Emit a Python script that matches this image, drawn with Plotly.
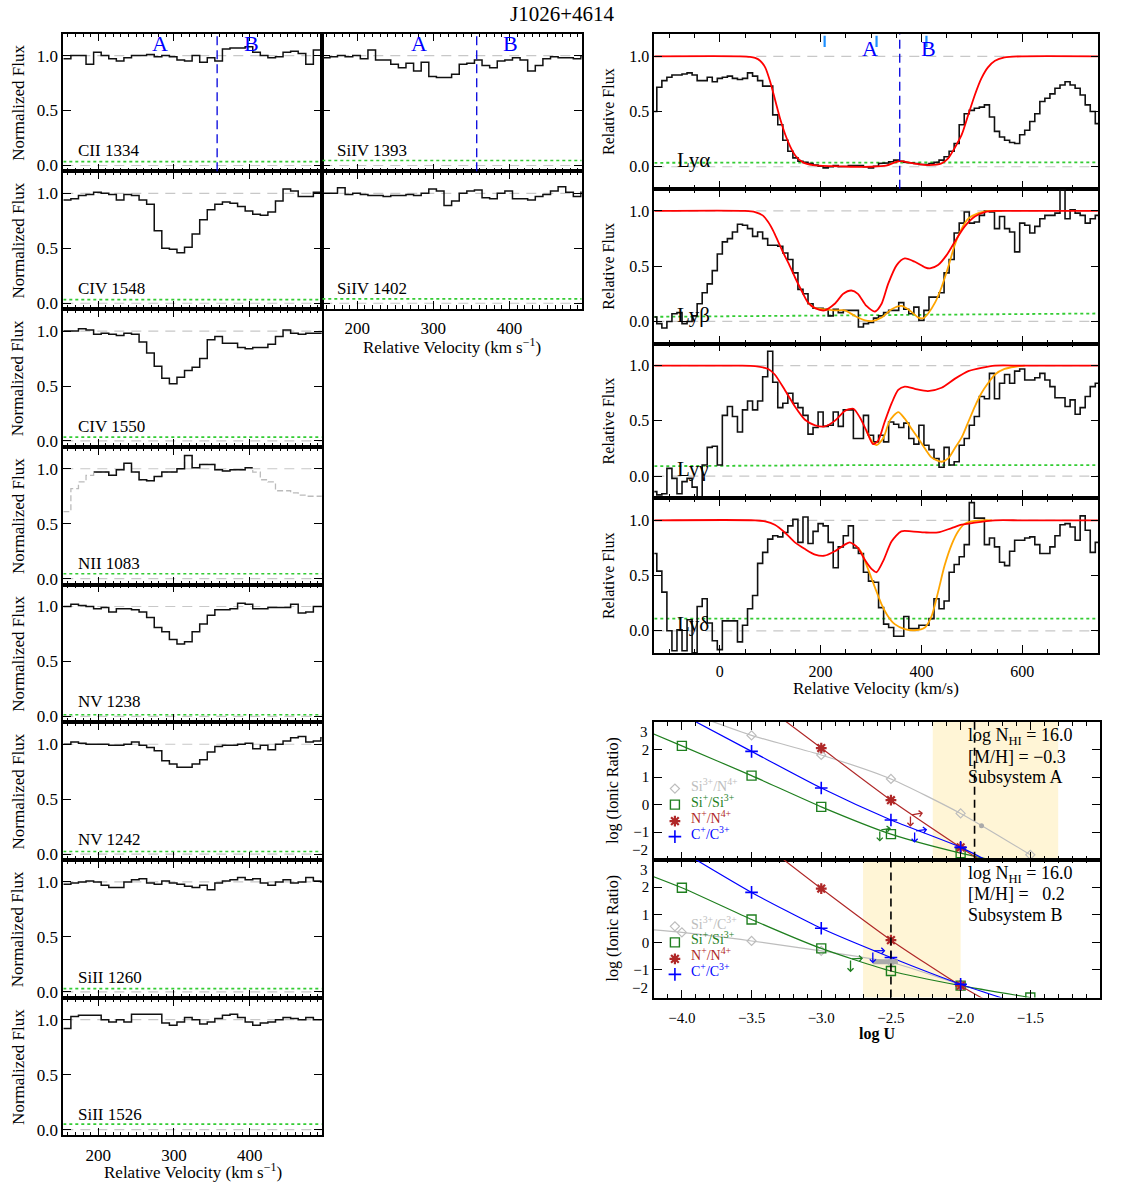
import numpy as np
import plotly.graph_objects as go

FONT = "Liberation Serif"
W, H = 1110, 1187   # effective drawing width seen by the renderer

# ======================= DATA =======================
# Metal-line panels: normalized flux, 10 km/s bins starting at 154 km/s
METAL_V0, METAL_DV = 154, 10

cii_1334 = [0.97, 1.00, 1.00, 0.92, 1.03, 1.00, 0.97, 0.95, 0.98, 1.00,
            1.00, 1.01, 0.99, 1.00, 0.99, 0.96, 0.95, 1.00, 0.94, 0.98,
            0.95, 1.06, 1.07, 1.07, 1.08, 1.03, 1.00, 0.98, 0.99, 1.03,
            1.04, 1.02, 0.92, 1.05, 0.97]
civ_1548 = [0.94, 0.95, 0.98, 0.99, 1.01, 1.00, 0.99, 0.94, 0.99, 0.98,
            0.94, 0.90, 0.66, 0.50, 0.49, 0.46, 0.51, 0.63, 0.76, 0.85,
            0.90, 0.92, 0.91, 0.88, 0.84, 0.81, 0.80, 0.83, 0.93, 1.04,
            1.02, 0.97, 0.97, 1.01, 1.00]
civ_1550 = [1.00, 1.00, 1.02, 1.01, 0.97, 0.98, 0.97, 0.96, 0.98, 0.97,
            0.90, 0.80, 0.68, 0.57, 0.52, 0.58, 0.64, 0.67, 0.75, 0.92,
            0.95, 0.89, 0.89, 0.85, 0.84, 0.85, 0.85, 0.88, 0.95, 1.01,
            0.98, 0.97, 0.98, 0.98, 0.98]
nii_core = [0.97, 0.97, 0.94, 0.99, 1.05, 0.97, 0.90, 0.89, 0.93, 0.97,
            0.97, 1.00, 1.12, 1.01, 1.04, 1.04, 0.99, 0.98, 0.99, 0.99, 1.01]
nii_1083 = [None] * 4 + nii_core + [None] * 10
nii_1083_blend = [0.61, 0.82, 0.88, 0.94] + nii_core + \
                 [0.97, 0.90, 0.88, 0.80, 0.80, 0.78, 0.76, 0.75, 0.75, 0.75]
nv_1238 = [1.00, 1.02, 1.01, 1.00, 0.98, 0.99, 0.95, 0.98, 0.98, 0.97,
           0.95, 0.90, 0.81, 0.77, 0.70, 0.66, 0.68, 0.77, 0.84, 0.92,
           0.97, 0.97, 0.98, 1.03, 1.02, 0.98, 0.98, 0.99, 0.99, 0.99,
           1.02, 0.94, 0.95, 1.00, 1.00]
nv_1242 = [1.00, 1.02, 1.01, 1.00, 1.00, 1.00, 0.99, 0.99, 1.00, 1.02,
           0.99, 0.97, 0.94, 0.85, 0.82, 0.79, 0.79, 0.82, 0.86, 0.93,
           0.98, 0.99, 0.99, 1.00, 1.01, 0.96, 0.99, 0.95, 1.00, 1.03,
           1.06, 1.07, 1.02, 1.03, 1.06]
sii_1260 = [0.98, 0.99, 1.00, 1.01, 1.00, 0.97, 0.95, 0.95, 1.00, 1.02,
            1.03, 0.99, 0.98, 1.01, 0.99, 0.98, 0.96, 0.95, 0.97, 0.93,
            0.99, 1.01, 1.02, 1.04, 1.02, 1.03, 0.99, 0.97, 1.00, 1.02,
            0.99, 1.00, 1.04, 1.01, 1.00]
sii_1526 = [0.92, 1.03, 1.04, 1.04, 1.04, 1.00, 0.98, 1.00, 0.98, 1.05,
            1.05, 1.05, 1.05, 0.97, 0.95, 0.98, 1.02, 1.00, 0.96, 0.98,
            1.01, 1.04, 1.05, 1.02, 0.98, 0.95, 0.97, 0.98, 1.00, 1.02,
            1.01, 1.00, 1.02, 1.00, 1.00]
siiv_1393 = [0.98, 0.99, 1.00, 0.99, 1.00, 0.97, 1.05, 0.96, 0.96, 0.92,
             0.89, 0.93, 0.86, 0.94, 0.81, 0.80, 0.80, 0.83, 0.92, 0.93,
             0.96, 0.91, 0.89, 0.95, 0.96, 0.98, 0.96, 0.86, 0.91, 0.97,
             0.99, 0.98, 0.98, 0.97, 0.99]
siiv_1402 = [1.00, 1.00, 1.05, 0.99, 1.00, 0.99, 0.98, 0.98, 0.97, 0.98,
             0.98, 0.99, 0.98, 1.00, 1.04, 1.02, 0.89, 0.93, 1.00, 1.02,
             1.03, 0.96, 0.95, 1.00, 1.02, 0.95, 0.95, 0.94, 0.97, 0.99,
             1.02, 1.06, 1.01, 0.97, 1.01]

metal_labels = ["CII 1334", "CIV 1548", "CIV 1550", "NII 1083", "NV 1238",
                "NV 1242", "SiII 1260", "SiII 1526", "SiIV 1393", "SiIV 1402"]
metal_flux = [cii_1334, civ_1548, civ_1550, nii_1083, nv_1238,
              nv_1242, sii_1260, sii_1526, siiv_1393, siiv_1402]
metal_err = [0.035, 0.033, 0.035, 0.045, 0.015, 0.024, 0.03, 0.05, 0.045, 0.04]

SUBSYS_SPLIT_V = 357          # dashed separator between subsystems A and B
subsys_label_v = [281, 402]   # positions of "A" and "B" in metal panels
subsys_names = ["A", "B"]

# Lyman series: relative flux, 10 km/s bins starting at -135 km/s
LY_V0, LY_DV = -135, 10
lya_flux = [0.50, 0.72, 0.78, 0.81, 0.83, 0.83, 0.84, 0.85, 0.83, 0.78,
            0.78, 0.81, 0.77, 0.80, 0.81, 0.82, 0.80, 0.79, 0.80, 0.85,
            0.82, 0.78, 0.73, 0.73, 0.47, 0.38, 0.24, 0.14, 0.08, 0.05,
            0.04, 0.03, 0.015, 0.005, -0.01, 0.0, 0.01, 0.0, 0.005, 0.01,
            0.005, 0.01, 0.0, -0.01, 0.005, 0.03, 0.035, 0.045, 0.06, 0.05,
            0.04, 0.035, 0.03, 0.02, 0.02, 0.03, 0.04, 0.06, 0.09, 0.14,
            0.21, 0.38, 0.48, 0.51, 0.53, 0.54, 0.56, 0.45, 0.32, 0.27,
            0.24, 0.22, 0.21, 0.29, 0.33, 0.41, 0.48, 0.59, 0.62, 0.66,
            0.71, 0.74, 0.77, 0.74, 0.71, 0.65, 0.56, 0.50, 0.39]
lyb_flux = [0.04, -0.02, -0.06, 0.0, 0.07, 0.08, -0.02, 0.0, 0.05, 0.16,
            0.26, 0.34, 0.46, 0.61, 0.72, 0.75, 0.81, 0.88, 0.87, 0.84,
            0.77, 0.81, 0.75, 0.69, 0.69, 0.68, 0.62, 0.56, 0.44, 0.29,
            0.25, 0.16, 0.12, 0.12, 0.11, 0.05, 0.11, 0.08, 0.10, 0.10,
            0.10, -0.05, -0.02, -0.01, 0.03, 0.05, 0.08, 0.10, 0.10, 0.17,
            0.11, 0.07, 0.13, 0.01, 0.10, 0.22, 0.22, 0.26, 0.44, 0.56,
            0.80, 0.89, 0.99, 0.89, 0.90, 0.96, 1.00, 0.99, 0.84, 0.95,
            0.84, 0.81, 0.63, 0.89, 0.87, 0.80, 0.86, 0.93, 0.96, 0.96,
            0.98, 1.19, 0.93, 1.01, 0.98, 0.96, 0.89, 0.93, 0.96]
lyg_flux = [-0.14, -0.17, -0.16, 0.07, -0.02, -0.16, -0.05, -0.02, -0.10, -0.22,
            0.10, 0.26, 0.27, 0.10, 0.55, 0.63, 0.54, 0.40, 0.60, 0.68,
            0.60, 0.68, 0.90, 1.13, 0.85, 0.62, 0.66, 0.75, 0.66, 0.62,
            0.55, 0.38, 0.44, 0.58, 0.45, 0.46, 0.58, 0.45, 0.60, 0.60,
            0.34, 0.34, 0.55, 0.37, 0.31, 0.37, 0.31, 0.49, 0.47, 0.44,
            0.48, 0.34, 0.29, 0.46, 0.28, 0.24, 0.16, 0.08, 0.26, 0.10,
            0.13, 0.28, 0.34, 0.46, 0.54, 0.72, 0.70, 0.93, 0.70, 0.84,
            0.92, 0.84, 0.95, 0.97, 0.87, 0.87, 0.89, 0.93, 0.87, 0.81,
            0.71, 0.71, 0.63, 0.69, 0.56, 0.62, 0.72, 0.81, 0.84]
lyd_flux = [0.70, 0.54, 0.35, 0.0, -0.18, 0.01, -0.18, 0.10, -0.20, 0.22,
            0.29, 0.07, -0.09, -0.17, 0.09, 0.09, 0.09, -0.10, 0.05, 0.20,
            0.32, 0.61, 0.71, 0.83, 0.86, 0.85, 0.89, 0.95, 1.01, 0.80,
            1.03, 0.79, 0.90, 0.97, 0.95, 0.80, 0.57, 0.76, 0.86, 0.95,
            0.75, 0.70, 0.53, 0.45, 0.44, 0.21, 0.06, 0.03, -0.05, -0.05,
            0.13, 0.02, 0.02, 0.05, 0.05, 0.11, 0.29, 0.20, 0.27, 0.53,
            0.60, 0.67, 0.78, 1.16, 1.02, 1.02, 0.78, 0.84, 0.76, 0.62,
            0.59, 0.72, 0.82, 0.82, 0.84, 0.85, 0.78, 0.70, 0.70, 0.76,
            0.86, 0.96, 0.97, 0.94, 0.82, 1.04, 0.91, 0.71, 0.80]

ly_err_v = [-130, 300, 750]
lya_err = [0.036, 0.036, 0.04]
lyb_err = [0.042, 0.057, 0.072]
lyg_err = [0.09, 0.10, 0.10]
lyd_err = [0.11, 0.11, 0.11]

# Voigt-profile models (red: total, orange: extra component)
lya_mod_v = [-130, 40, 60, 70, 80, 90, 100, 110, 120, 130, 140, 150, 165, 185, 220,
             260, 300, 330, 355, 385, 415, 440, 453, 466, 480, 493, 506, 519,
             532, 546, 565, 600, 750]
lya_mod_f = [1.0, 1.0, 0.995, 0.985, 0.96, 0.9, 0.77, 0.6, 0.43, 0.29, 0.18, 0.10,
             0.04, 0.015, 0.005, 0.0, 0.0, 0.01, 0.05, 0.03, 0.015, 0.03, 0.075,
             0.17, 0.29, 0.47, 0.65, 0.8, 0.9, 0.96, 0.99, 1.0, 1.0]
lyb_mod_v = [-130, 50, 70, 85, 96, 106, 116, 126, 136, 149, 162, 175, 189, 208, 228,
             245, 261, 274, 291, 308, 321, 334, 351, 367, 387, 407, 417, 433, 450,
             466, 486, 506, 526, 546, 600, 750]
lyb_mod_f = [1.0, 1.0, 0.99, 0.96, 0.90, 0.82, 0.72, 0.62, 0.53, 0.40, 0.28, 0.17,
             0.12, 0.10, 0.16, 0.25, 0.28, 0.25, 0.14, 0.09, 0.16, 0.34, 0.51, 0.57,
             0.54, 0.49, 0.48, 0.51, 0.60, 0.72, 0.86, 0.95, 0.99, 1.0, 1.0, 1.0]
lyb_alt_v = [175, 189, 208, 228, 248, 268, 288, 304, 321, 341, 360, 377, 394, 404,
             413, 427, 440, 453, 466, 480, 493, 513, 532, 560]
lyb_alt_f = [0.17, 0.12, 0.11, 0.10, 0.10, 0.05, 0.01, 0.005, 0.035, 0.11, 0.14,
             0.10, 0.035, 0.03, 0.07, 0.17, 0.31, 0.49, 0.69, 0.84, 0.93, 0.98,
             1.0, 1.0]
lyg_mod_v = [-130, 40, 70, 96, 109, 129, 149, 169, 189, 208, 228, 248, 265, 278, 291,
             304, 314, 327, 341, 354, 367, 387, 413, 440, 466, 493, 519, 546, 600, 750]
lyg_mod_f = [1.0, 1.0, 0.995, 0.97, 0.92, 0.78, 0.63, 0.51, 0.46, 0.45, 0.50, 0.59,
             0.61, 0.53, 0.41, 0.29, 0.32, 0.49, 0.66, 0.78, 0.81, 0.79, 0.77, 0.80,
             0.88, 0.95, 0.98, 1.0, 1.0, 1.0]
lyg_alt_v = [291, 304, 311, 324, 337, 354, 367, 380, 394, 407, 420, 440, 453, 466,
             480, 493, 506, 519, 532, 546, 565, 585, 605]
lyg_alt_f = [0.41, 0.30, 0.28, 0.34, 0.50, 0.58, 0.52, 0.43, 0.34, 0.25, 0.17, 0.13,
             0.16, 0.25, 0.35, 0.49, 0.63, 0.75, 0.84, 0.92, 0.97, 0.99, 1.0]
lyd_mod_v = [-130, 70, 90, 109, 129, 149, 169, 189, 208, 228, 248, 258, 274, 288,
             301, 311, 324, 341, 360, 380, 407, 433, 460, 480, 506, 546, 600, 750]
lyd_mod_f = [1.0, 1.0, 0.99, 0.96, 0.89, 0.80, 0.74, 0.69, 0.68, 0.72, 0.78, 0.80,
             0.75, 0.64, 0.56, 0.53, 0.63, 0.81, 0.90, 0.90, 0.89, 0.89, 0.93, 0.96,
             0.98, 1.0, 1.0, 1.0]
lyd_alt_v = [274, 281, 294, 308, 321, 334, 347, 367, 387, 407, 420, 433, 446, 460,
             473, 486, 499, 519, 540]
lyd_alt_f = [0.75, 0.71, 0.56, 0.39, 0.24, 0.13, 0.06, 0.015, 0.005, 0.03, 0.13,
             0.35, 0.59, 0.78, 0.90, 0.97, 0.99, 1.0, 1.0]

ly_labels = ["Ly\u03b1", "Ly\u03b2", "Ly\u03b3", "Ly\u03b4"]
comp_v = [208, 311, 410]            # component markers in Ly-alpha
ly_subsys_v = [298, 415]

# Photoionization models: log(ionic ratio) vs log U
# Subsystem A
A_sin_u = [-4.0, -3.5, -3.0, -2.5, -2.0, -1.5]
A_sin = [3.42, 2.51, 1.80, 0.93, -0.32, -1.82]
A_sisi_u = [-4.5, -4.0, -3.5, -3.0, -2.5, -2.0, -1.5]
A_sisi = [3.2, 2.13, 1.05, -0.08, -1.07, -1.76, -2.3]
A_nn_u = [-3.5, -3.0, -2.5, -2.0, -1.5]
A_nn = [3.95, 2.05, 0.16, -1.55, -3.2]
A_cc_u = [-4.0, -3.5, -3.0, -2.5, -2.0, -1.5]
A_cc = [3.27, 1.93, 0.60, -0.56, -1.55, -2.85]
A_obs_u, A_obs = [-1.85], [-0.77]
A_band = [-2.2, -1.3]
A_best = -1.9
# Subsystem B
B_sic_u = [-4.5, -4.0, -3.5, -3.0, -2.5, -2.0]
B_sic = [0.58, 0.36, 0.05, -0.31, -0.72, -1.54]
B_sisi_u = [-4.5, -4.0, -3.5, -3.0, -2.5, -2.0, -1.5]
B_sisi = [2.95, 1.98, 0.83, -0.22, -1.04, -1.57, -2.0]
B_nn_u = [-3.5, -3.0, -2.5, -2.0, -1.5]
B_nn = [3.9, 1.95, 0.08, -1.57, -3.0]
B_cc_u = [-4.0, -3.5, -3.0, -2.5, -2.0, -1.5]
B_cc = [3.3, 1.81, 0.51, -0.55, -1.52, -2.35]
B_obs_u, B_obs = [-2.63, -2.45], [-0.70, -0.70]
B_band = [-2.7, -2.0]
B_best = -2.5

# limits: (ion key, corner logU, corner ratio, down-arrow ratio, right-arrow logU, right-arrow ratio)
A_limits = [("N", -2.36, -0.38, -0.80, -2.27, -0.30),
            ("Si", -2.58, -0.92, -1.34, -2.50, -0.86),
            ("C", -2.33, -0.96, -1.38, -2.24, -0.90)]
B_limits = [("Si", -2.79, -0.60, -1.08, -2.70, -0.58),
            ("C", -2.63, -0.31, -0.76, -2.54, -0.30)]

A_text = ["log N<sub>HI</sub> = 16.0", "[M/H] = \u22120.3", "Subsystem A"]
B_text = ["log N<sub>HI</sub> = 16.0", "[M/H] = \u00a0\u00a00.2", "Subsystem B"]
A_leg = ["Si<sup>3+</sup>/N<sup>4+</sup>", "Si<sup>+</sup>/Si<sup>3+</sup>",
         "N<sup>+</sup>/N<sup>4+</sup>", "C<sup>+</sup>/C<sup>3+</sup>"]
B_leg = ["Si<sup>3+</sup>/C<sup>3+</sup>", "Si<sup>+</sup>/Si<sup>3+</sup>",
         "N<sup>+</sup>/N<sup>4+</sup>", "C<sup>+</sup>/C<sup>3+</sup>"]

# ======================= STYLE =======================
C_GRAY = "#BDBDBD"
C_GREEN = "#1F7F1F"
C_RED = "#B02828"
C_BLUE = "#0000FF"
C_STEP = "#111111"
C_ERR = "#33CC33"
C_SHADE = "#FFF5D6"
ion_color = {"Si3": C_GRAY, "Si": C_GREEN, "N": C_RED, "C": C_BLUE}

fig = go.Figure()
layout = {}
annotations = []
shapes = []


def sfx(i):
    return "" if i == 1 else str(i)


def steps(v0, dv, vals):
    xs, ys = [], []
    prev = None
    for k, val in enumerate(vals):
        l, r = v0 + k * dv, v0 + (k + 1) * dv
        if val is None:
            if prev is not None:
                xs.append(None)
                ys.append(None)
            prev = None
            continue
        xs += [l, r]
        ys += [val, val]
        prev = val
    return xs, ys


def base_axis(size):
    return dict(showline=True, linecolor="black", linewidth=1.6, mirror="ticks",
                ticks="inside", tickcolor="black", tickwidth=1.2, ticklen=8,
                showgrid=False, zeroline=False,
                tickfont=dict(family=FONT, size=size, color="black"))


def add_axes(i, x0, x1, top, bot, xr, yr, xtick0, xdtick, xminor, xfmt,
             showx, showy, size, ytick=None, standoff=3):
    xa = base_axis(size)
    xa.update(domain=[x0 / W, x1 / W], anchor="y" + sfx(i), range=xr,
              tickmode="linear", tick0=xtick0, dtick=xdtick, tickformat=xfmt,
              showticklabels=showx, ticklabelstandoff=standoff,
              minor=dict(ticks="inside", ticklen=4, tickcolor="black", tickwidth=1,
                         tickmode="linear", tick0=xtick0, dtick=xminor))
    ya = base_axis(size)
    ya.update(domain=[1 - bot / H, 1 - top / H], anchor="x" + sfx(i), range=yr,
              showticklabels=showy)
    if ytick is None:
        ya.update(tickmode="linear", tick0=0, dtick=0.5, tickformat=".1f")
    else:
        ya.update(tickmode="array", tickvals=ytick[0], ticktext=ytick[1])
    layout["xaxis" + sfx(i)] = xa
    layout["yaxis" + sfx(i)] = ya


def hline(i, y, color, dash, width=1.2):
    shapes.append(dict(type="line", xref="x" + sfx(i) + " domain", yref="y" + sfx(i),
                       x0=0, x1=1, y0=y, y1=y, layer="below",
                       line=dict(color=color, dash=dash, width=width)))


def vline(i, x, color, dash, width=1.3, layer="above"):
    shapes.append(dict(type="line", xref="x" + sfx(i), yref="y" + sfx(i) + " domain",
                       x0=x, x1=x, y0=0, y1=1, layer=layer,
                       line=dict(color=color, dash=dash, width=width)))


def ann(text, x, y, xref="paper", yref="paper", size=17, color="black", **kw):
    d = dict(text=text, x=x, y=y, xref=xref, yref=yref, showarrow=False,
             xanchor="center", yanchor="middle",
             font=dict(family=FONT, size=size, color=color))
    d.update(kw)
    annotations.append(d)


def tr(i, **kw):
    kw.setdefault("showlegend", False)
    kw.setdefault("hoverinfo", "skip")
    fig.add_trace(go.Scatter(xaxis="x" + sfx(i), yaxis="y" + sfx(i), **kw))


DASH_REF = "10px,7px"

# ---------------- metal panels ----------------
LEFT_X = (63.3, 321.7)
MID_X = (322.3, 581.7)
TOP0, PH = 33.7, 138.2
METAL_XR = [154, 495]
METAL_YR = [-0.053, 1.2]

for idx in range(10):
    i = idx + 1
    if idx < 8:
        x0, x1 = LEFT_X
        row = idx
        bottom = (idx == 7)
        showy = True
    else:
        x0, x1 = MID_X
        row = idx - 8
        bottom = (idx == 9)
        showy = False
    top = TOP0 + PH * row
    bot = top + PH
    add_axes(i, x0, x1, top, bot, METAL_XR, METAL_YR, 0, 100, 10, "d",
             bottom, showy, 17)
    hline(i, 0, "#C8C8C8", DASH_REF)
    hline(i, 1, "#C8C8C8", DASH_REF)
    e = metal_err[idx]
    tr(i, x=[METAL_XR[0], METAL_XR[1]], y=[e, e], mode="lines",
       line=dict(color=C_ERR, dash="dot", width=1.6))
    if idx == 3:
        bx, by = steps(METAL_V0, METAL_DV, nii_1083_blend)
        tr(i, x=bx, y=by, mode="lines", line=dict(color="#BBBBBB", dash="6px,3px", width=1.3))
    sx, sy = steps(METAL_V0, METAL_DV, metal_flux[idx])
    tr(i, x=sx, y=sy, mode="lines", line=dict(color=C_STEP, width=1.5))
    ann(metal_labels[idx], 171, 0.03, xref="x" + sfx(i), yref="y" + sfx(i),
        xanchor="left", yanchor="bottom", size=17)
    if showy:
        ann("Normalized Flux", 18.3 / W, 1 - (top + bot) / 2 / H, textangle=-90, size=17)
    if idx in (0, 8):
        vline(i, SUBSYS_SPLIT_V, "#0000DD", "9px,5px")
        for v, name in zip(subsys_label_v, subsys_names):
            ann(name, v, 1.11, xref="x" + sfx(i), yref="y" + sfx(i), size=22, color="#0000FF")

ann("Relative Velocity (km s<sup>\u22121</sup>)", (LEFT_X[0] + LEFT_X[1]) / 2 / W, 1 - 1175 / H, size=17)
ann("Relative Velocity (km s<sup>\u22121</sup>)", (MID_X[0] + MID_X[1]) / 2 / W, 1 - 347 / H, size=17)

# ---------------- Lyman series panels ----------------
LY_X = (654.3, 1098.3)
LY_TOP0, LY_PH = 34.3, 155.2
LY_XR = [-130, 751]
LY_YR = [-0.2, 1.2]
ly_flux = [lya_flux, lyb_flux, lyg_flux, lyd_flux]
ly_err = [lya_err, lyb_err, lyg_err, lyd_err]
ly_mod = [(lya_mod_v, lya_mod_f), (lyb_mod_v, lyb_mod_f), (lyg_mod_v, lyg_mod_f), (lyd_mod_v, lyd_mod_f)]
ly_alt = [None, (lyb_alt_v, lyb_alt_f), (lyg_alt_v, lyg_alt_f), (lyd_alt_v, lyd_alt_f)]

for k in range(4):
    i = 11 + k
    top = LY_TOP0 + LY_PH * k
    bot = top + LY_PH
    add_axes(i, LY_X[0], LY_X[1], top, bot, LY_XR, LY_YR, 0, 200, 50, "d",
             k == 3, True, 16)
    hline(i, 0, "#C8C8C8", DASH_REF)
    hline(i, 1, "#C8C8C8", DASH_REF)
    tr(i, x=ly_err_v, y=ly_err[k], mode="lines", line=dict(color=C_ERR, dash="dot", width=1.8))
    sx, sy = steps(LY_V0, LY_DV, ly_flux[k])
    tr(i, x=sx, y=sy, mode="lines", line=dict(color=C_STEP, width=1.6))
    if ly_alt[k] is not None:
        tr(i, x=ly_alt[k][0], y=ly_alt[k][1], mode="lines",
           line=dict(color="#FFA500", width=1.8, shape="spline", smoothing=0.7))
    tr(i, x=ly_mod[k][0], y=ly_mod[k][1], mode="lines",
       line=dict(color="#FF0000", width=1.8, shape="spline", smoothing=0.7))
    ann(ly_labels[k], -88, 0.06, xref="x" + sfx(i), yref="y" + sfx(i),
        xanchor="left", yanchor="middle", size=21)
    ann("Relative Flux", 608.5 / W, 1 - (top + bot) / 2 / H, textangle=-90, size=16)

vline(11, SUBSYS_SPLIT_V, "#0000DD", "9px,5px")
tr(11, x=comp_v, y=[1.135] * len(comp_v), mode="markers",
   marker=dict(symbol="line-ns-open", size=8, color="#1E90FF",
               line=dict(color="#1E90FF", width=2.2)))
for v, name in zip(ly_subsys_v, subsys_names):
    ann(name, v, 1.07, xref="x11", yref="y11", size=22, color="#0000FF")
ann("Relative Velocity (km/s)", (LY_X[0] + LY_X[1]) / 2 / W, 1 - 691 / H, size=17)

# ---------------- photoionization panels ----------------
ION_X = (654.0, 1100.0)
ION_TOPS = [724.3, 862.5]
ION_PH = 138.4
ION_XR = [-4.2, -1.0]
ION_YR = [-2.0, 3.0]
yv = [-2, -1, 0, 1, 2, 3]
yt = ["", "\u22121", "0", "1", "2", ""]

panels = [
    dict(curves=[("Si3", A_sin_u, A_sin), ("Si", A_sisi_u, A_sisi),
                 ("N", A_nn_u, A_nn), ("C", A_cc_u, A_cc)],
         band=A_band, best=A_best, limits=A_limits, text=A_text, leg=A_leg),
    dict(curves=[("Si3", B_sic_u, B_sic), ("Si", B_sisi_u, B_sisi),
                 ("N", B_nn_u, B_nn), ("C", B_cc_u, B_cc)],
         band=B_band, best=B_best, limits=B_limits, text=B_text, leg=B_leg),
]
marker_style = {
    "Si3": dict(symbol="diamond-open", size=7, line=dict(width=1.2, color=C_GRAY), color=C_GRAY),
    "Si": dict(symbol="square-open", size=9, line=dict(width=1.4, color=C_GREEN), color=C_GREEN),
    "N": dict(symbol="asterisk-open", size=9, line=dict(width=2.2, color=C_RED), color=C_RED),
    "C": dict(symbol="cross-thin-open", size=9, line=dict(width=1.6, color=C_BLUE), color=C_BLUE),
}
leg_order = ["Si3", "Si", "N", "C"]
leg_text_y = [0.70, 0.14, -0.44, -1.02]
leg_mark_y = [0.58, 0.0, -0.60, -1.16]
ion_text_y = [2.47, 1.74, 1.0]

for p, P in enumerate(panels):
    i = 15 + p
    top = ION_TOPS[p]
    bot = top + ION_PH
    add_axes(i, ION_X[0], ION_X[1], top, bot, ION_XR, ION_YR, -4.0, 0.5, 0.1, ".1f",
             p == 1, True, 15, ytick=(yv, yt), standoff=6)
    xr, yr = "x" + sfx(i), "y" + sfx(i)
    shapes.append(dict(type="rect", xref=xr, yref=yr + " domain", x0=P["band"][0],
                       x1=P["band"][1], y0=0, y1=1, layer="below",
                       fillcolor=C_SHADE, line=dict(width=0)))
    vline(i, P["best"], "black", "8px,5px", width=1.6)
    for key, u, r in P["curves"]:
        tr(i, x=u, y=r, mode="lines+markers",
           line=dict(color=ion_color[key], width=1.2, shape="spline", smoothing=0.6),
           marker=marker_style[key])
    # limits
    for key, cu, cy, dy, ru, ry in P["limits"]:
        col = ion_color[key]
        for hx, hy in [(cu, dy), (ru, ry)]:
            annotations.append(dict(x=hx, y=hy, ax=cu, ay=cy, xref=xr, yref=yr,
                                    axref=xr, ayref=yr, showarrow=True, text="",
                                    arrowhead=4, arrowsize=0.9, arrowwidth=1.3,
                                    arrowcolor=col, standoff=0, startstandoff=0))
    # legend
    for n, key in enumerate(leg_order):
        tr(i, x=[-4.05], y=[leg_mark_y[n]], mode="markers", marker=marker_style[key])
        ann(P["leg"][n], -3.95, leg_text_y[n], xref=xr, yref=yr, xanchor="left",
            size=14, color=ion_color[key])
    for n, t in enumerate(P["text"]):
        ann(t, -1.965, ion_text_y[n], xref=xr, yref=yr, xanchor="left", size=18)
    # edge tick labels kept inside the frame
    ann("3", 0, 3, xref=xr + " domain", yref=yr, xanchor="right", yanchor="top",
        xshift=-4, size=15)
    ann("\u22122", 0, -2, xref=xr + " domain", yref=yr, xanchor="right", yanchor="bottom",
        xshift=-4, size=15)
    ann("log (Ionic Ratio)", 613 / W, 1 - (top + bot) / 2 / H, textangle=-90, size=16)

tr(15, x=A_obs_u, y=A_obs, mode="markers", marker=dict(color="#AAAAAA", size=5))
tr(16, x=B_obs_u, y=B_obs, mode="lines", line=dict(color="#AAAAAA", width=5))
ann("<b>log U</b>", (ION_X[0] + ION_X[1]) / 2 / W, 1 - 1037 / H, size=16)

# ---------------- title ----------------
ann("J1026+4614", 562.5 / W, 1 - 14 / H, size=21)

layout.update(
    width=W, height=H, autosize=False,
    margin=dict(l=0, r=0, t=0, b=0),
    paper_bgcolor="white", plot_bgcolor="rgba(0,0,0,0)",
    showlegend=False,
    font=dict(family=FONT, size=16, color="black"),
    annotations=annotations, shapes=shapes,
)
fig.update_layout(**layout)
fig.write_html("out.html", config={"responsive": False},
               post_script="document.body.style.margin='0';document.body.style.overflow='hidden';")
